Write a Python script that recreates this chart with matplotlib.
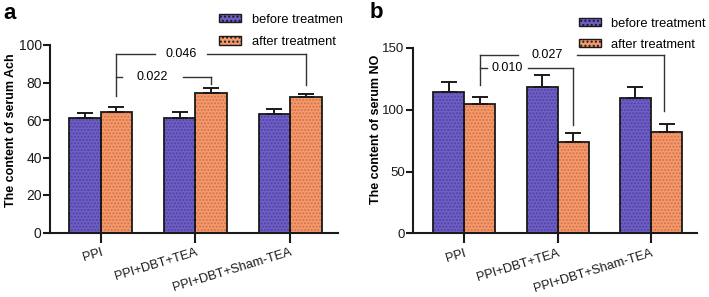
import numpy as np
import matplotlib
matplotlib.use('Agg')
import matplotlib.pyplot as plt
from matplotlib.patches import Patch

plt.rcParams['font.family'] = ['Liberation Sans', 'DejaVu Sans']
plt.rcParams['hatch.linewidth'] = 1.0

# data
groups = ['PPI', 'PPI+DBT+TEA', 'PPI+DBT+Sham-TEA']
ach_before = [61.2, 61.3, 63.2]
ach_before_err = [2.7, 3.0, 2.5]
ach_after = [64.3, 74.4, 72.1]
ach_after_err = [2.8, 2.5, 1.6]
no_before = [114.3, 118.4, 109.5]
no_before_err = [8.0, 9.7, 9.2]
no_after = [104.3, 73.8, 81.9]
no_after_err = [6.2, 7.3, 6.5]

purple = '#6e5fc6'
purple_dot = '#4f419f'
salmon = '#f59a6c'
salmon_dot = '#d4724a'

fig = plt.figure(figsize=(7.09, 2.97), dpi=100)
ax_a = fig.add_axes([50/709, 1-232.5/297, 288/709, 187.5/297])
ax_b = fig.add_axes([413/709, 1-233.3/297, 283.7/709, 185.3/297])

w = 0.333
x = np.arange(len(groups))


def draw_bars(ax, vals, errs, offset, color, dot):
    pos = x + offset
    ax.bar(pos, vals, w, color=color, edgecolor=dot, linewidth=0, hatch='.....', zorder=2)
    ax.bar(pos, vals, w, fill=False, edgecolor='#1a1a1a', linewidth=1.3, zorder=3)
    ax.errorbar(pos, vals, yerr=[np.zeros(len(vals)), errs], fmt='none', ecolor='#1a1a1a',
                elinewidth=1.4, capsize=6, capthick=1.4, zorder=4)


def style_axis(ax, ylim, yticks, xlim, ysize):
    ax.set_ylim(*ylim)
    ax.set_yticks(yticks)
    ax.set_xlim(*xlim)
    ax.set_xticks(x)
    ax.set_xticklabels(groups, rotation=17, ha='right', rotation_mode='anchor', fontsize=9.3)
    for s in ['top', 'right']:
        ax.spines[s].set_visible(False)
    for s in ['left', 'bottom']:
        ax.spines[s].set_linewidth(1.5)
        ax.spines[s].set_color('#1a1a1a')
    ax.tick_params(axis='y', length=5, width=1.5, labelsize=ysize, pad=1, colors='#1a1a1a')
    ax.tick_params(axis='x', length=7, width=1.5, pad=3, colors='#1a1a1a')


def bracket(ax, xl, xr, y_top, yl_end, yr_end, gap, label, lw=1.0):
    # long bracket from xl to xr at y_top with a gap for the text
    ax.plot([xl, xl], [yl_end, y_top], color='#333333', lw=lw)
    ax.plot([xl, gap[0]], [y_top, y_top], color='#333333', lw=lw)
    ax.plot([gap[1], xr], [y_top, y_top], color='#333333', lw=lw)
    ax.plot([xr, xr], [y_top, yr_end], color='#333333', lw=lw)
    ax.text((gap[0] + gap[1]) / 2, y_top, label, ha='center', va='center', fontsize=9)


# panel a
draw_bars(ax_a, ach_before, ach_before_err, -w/2, purple, purple_dot)
draw_bars(ax_a, ach_after, ach_after_err, w/2, salmon, salmon_dot)
style_axis(ax_a, (0, 100), [0, 20, 40, 60, 80, 100], (-0.535, 2.506), 10)
ax_a.set_ylabel('The content of serum Ach', fontsize=9, fontweight='bold')
ax_a.yaxis.set_label_coords(-0.115, 0.545)
bracket(ax_a, 0.167, 2.167, 95.2, 72.8, 78.7, (0.573, 1.123), '0.046')
bracket(ax_a, 0.167, 1.167, 82.8, 82.8, 79.0, (0.225, 0.87), '0.022')

# panel b
draw_bars(ax_b, no_before, no_before_err, -w/2, purple, purple_dot)
draw_bars(ax_b, no_after, no_after_err, w/2, salmon, salmon_dot)
style_axis(ax_b, (0, 150), [0, 50, 100, 150], (-0.55, 2.49), 9.5)
ax_b.set_ylabel('The content of serum NO', fontsize=9, fontweight='bold')
ax_b.yaxis.set_label_coords(-0.109, 0.56)
bracket(ax_b, 0.167, 2.14, 144, 119.7, 98.6, (0.576, 1.206), '0.027')
bracket(ax_b, 0.167, 1.167, 133.8, 133.8, 87.8, (0.24, 0.68), '0.010')

# legends
handles = [Patch(facecolor=purple, edgecolor='#1a1a1a', hatch='....', linewidth=1.0),
           Patch(facecolor=salmon, edgecolor='#1a1a1a', hatch='....', linewidth=1.0)]
fig.legend(handles, ['before treatmen', 'after treatment'], loc='upper left',
           bbox_to_anchor=(207.5/709, 1-2/297), frameon=False, fontsize=9.3,
           handlelength=1.7, handleheight=0.6, handletextpad=0.85, labelspacing=0.8)
fig.legend(handles, ['before treatment', 'after treatment'], loc='upper left',
           bbox_to_anchor=(567.5/709, 1-6/297), frameon=False, fontsize=9.3,
           handlelength=1.7, handleheight=0.6, handletextpad=0.75, labelspacing=0.7)

fig.text(3/709, 1-3/297, 'a', fontsize=16, fontweight='bold', va='top', ha='left')
fig.text(370/709, 1-2/297, 'b', fontsize=16, fontweight='bold', va='top', ha='left')

fig.savefig('out.png', dpi=100)
